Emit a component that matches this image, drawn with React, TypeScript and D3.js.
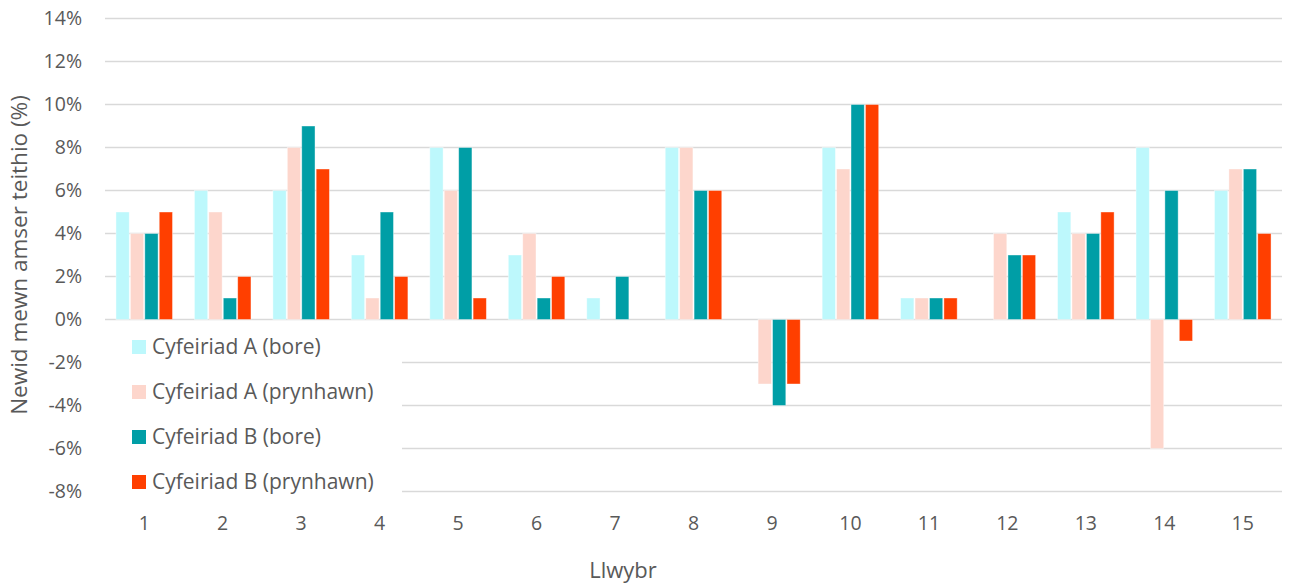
import React from "react";
import * as d3 from "d3";

const categories = ["1","2","3","4","5","6","7","8","9","10","11","12","13","14","15"];
const seriesNames = ["Cyfeiriad A (bore)","Cyfeiriad A (prynhawn)","Cyfeiriad B (bore)","Cyfeiriad B (prynhawn)"];
const seriesColors = ["#BDF8FC","#FDD6CC","#009EA6","#FF3F00"];
const aBore = [5,6,6,3,8,3,1,8,0,8,1,0,5,8,6];
const aPryn = [4,5,8,1,6,4,0,8,-3,7,1,4,4,-6,7];
const bBore = [4,1,9,5,8,1,2,6,-4,10,1,3,4,6,7];
const bPryn = [5,2,7,2,1,2,0,6,-3,10,1,3,5,-1,4];
const yTicks = [-8,-6,-4,-2,0,2,4,6,8,10,12,14];

const W = 1291, H = 584;
const FONT = "'Open Sans', sans-serif";

export default function App() {
  const series = [aBore, aPryn, bBore, bPryn];
  const x0 = d3.scaleBand().domain(categories).range([105, 1282]).paddingInner(0.25).paddingOuter(0.125);
  const x1 = d3.scaleBand().domain(seriesNames).range([0, x0.bandwidth()]).padding(0.08);
  const y = d3.scaleLinear().domain([-8, 14]).range([491.5, 18.5]);
  const gx = d3.scaleBand().domain(categories).range([105, 1282]);
  return (
    <svg width={W} height={H} style={{ display: "block", position: "absolute", left: 0, top: 0 }}>
      <rect width={W} height={H} fill="#fff" />
      {yTicks.map((t) => (
        <g key={t}>
          <line x1={105} x2={1282} y1={y(t)} y2={y(t)} stroke="#D9D9D9" strokeWidth={1.3} />
          <text x={82} y={y(t)} dy="0.35em" textAnchor="end" fontFamily={FONT} fontSize={19.5} fill="#595959">{t}%</text>
        </g>
      ))}
      {series.map((vals, si) =>
        vals.map((v, ci) => {
          if (v === 0) return null;
          const xx = (x0(categories[ci]) as number) + (x1(seriesNames[si]) as number);
          const y0 = y(0), yv = y(v);
          return (
            <rect key={si + "-" + ci} x={xx} width={x1.bandwidth()} y={Math.min(y0, yv)} height={Math.abs(yv - y0)}
              fill={seriesColors[si]} stroke="#fff" strokeOpacity={0.5} strokeWidth={0.8} />
          );
        })
      )}
      {categories.map((c) => (
        <text key={c} x={(gx(c) as number) + gx.bandwidth() / 2} y={523} dy="0.35em" textAnchor="middle" fontFamily={FONT} fontSize={19.5} fill="#595959">{c}</text>
      ))}
      <text x={623} y={570} dy="0.35em" textAnchor="middle" fontFamily={FONT} fontSize={22} fill="#595959">Llwybr</text>
      <text transform="translate(19,255) rotate(-90)" dy="0.35em" textAnchor="middle" fontFamily={FONT} fontSize={22.5} fill="#595959">Newid mewn amser teithio (%)</text>
      <rect x={104} y={328} width={298} height={176} fill="#fff" />
      {seriesNames.map((n, i) => (
        <g key={n} transform={`translate(0,${347 + i * 45})`}>
          <rect x={132} y={-7} width={14} height={14} fill={seriesColors[i]} />
          <text x={152} y={0} dy="0.35em" fontFamily={FONT} fontSize={21} fill="#595959">{n}</text>
        </g>
      ))}
    </svg>
  );
}
